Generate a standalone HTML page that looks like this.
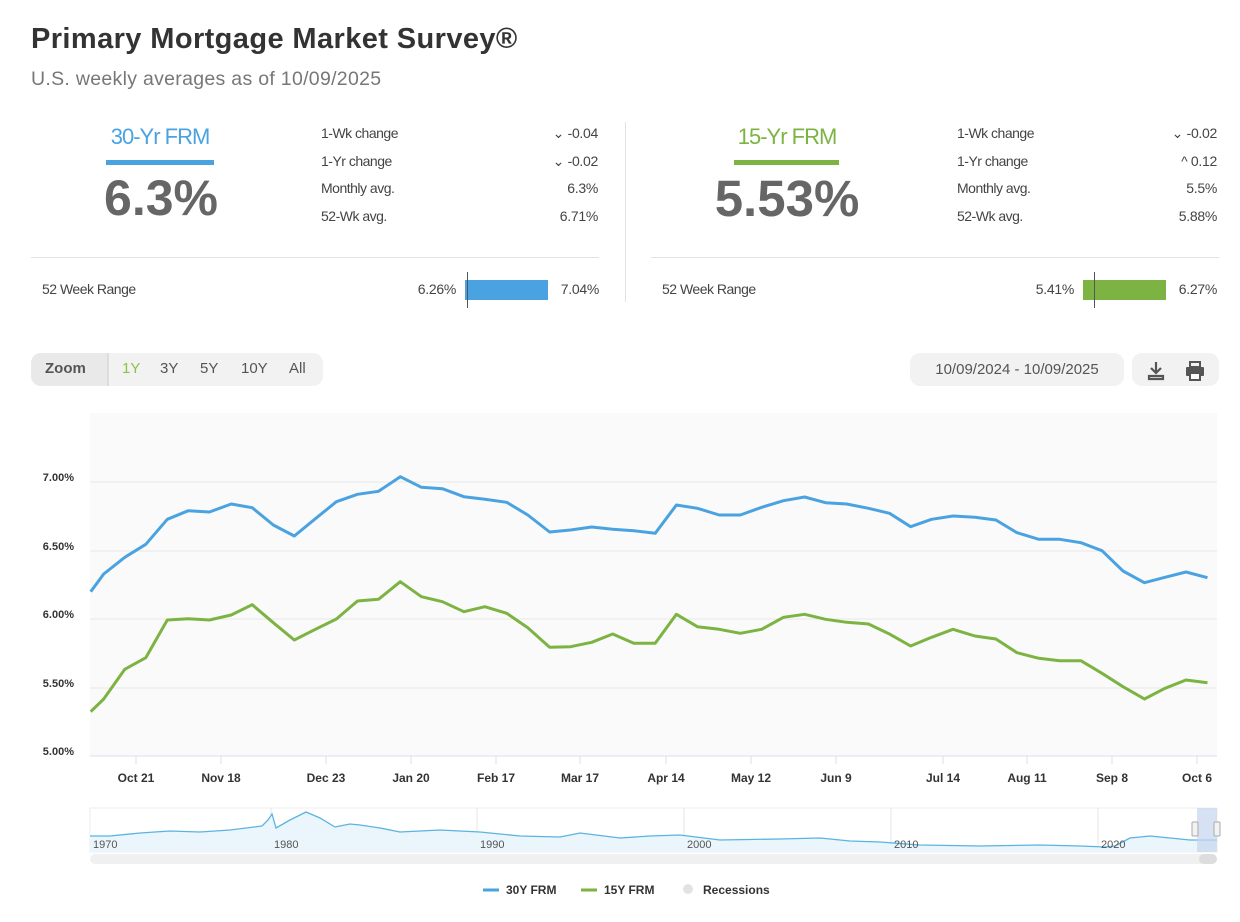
<!DOCTYPE html>
<html><head><meta charset="utf-8"><style>
body{margin:0;width:1240px;height:922px;background:#fff;font-family:"Liberation Sans",sans-serif;color:#444;position:relative;overflow:hidden}
.a{position:absolute;white-space:nowrap}
.lab{font-size:14px;color:#444;letter-spacing:-0.5px}
.val{font-size:14px;color:#444;text-align:right;letter-spacing:-0.3px}
</style></head><body>
<div class="a" style="left:31px;top:23px;font-size:29px;font-weight:bold;color:#333;letter-spacing:0.4px">Primary Mortgage Market Survey®</div>
<div class="a" style="left:31px;top:68px;font-size:19.5px;color:#777;letter-spacing:0.3px">U.S. weekly averages as of 10/09/2025</div>

<div class="a" style="left:103px;top:124px;width:114px;text-align:center;font-size:22px;color:#4aa3e0;letter-spacing:-1px">30-Yr FRM</div>
<div class="a" style="left:106px;top:160px;width:108px;height:5px;background:#4aa3e0"></div>
<div class="a" style="left:96px;top:169px;width:130px;text-align:center;font-size:50px;font-weight:bold;color:#666">6.3%</div>
<div class="a lab" style="left:321px;top:125px">1-Wk change</div>
<div class="a lab" style="left:321px;top:153px">1-Yr change</div>
<div class="a lab" style="left:321px;top:180px">Monthly avg.</div>
<div class="a lab" style="left:321px;top:208px">52-Wk avg.</div>
<div class="a val" style="left:500px;top:125px;width:98px">⌄ -0.04</div>
<div class="a val" style="left:500px;top:153px;width:98px">⌄ -0.02</div>
<div class="a val" style="left:500px;top:180px;width:98px">6.3%</div>
<div class="a val" style="left:500px;top:208px;width:98px">6.71%</div>
<div class="a" style="left:31px;top:257px;width:568px;height:1px;background:#e2e2e2"></div>
<div class="a lab" style="left:42px;top:281px">52 Week Range</div>
<div class="a val" style="left:390px;top:281px;width:66px">6.26%</div>
<div class="a" style="left:465px;top:280px;width:83px;height:20px;background:#4aa3e0"></div>
<div class="a" style="left:467px;top:272px;width:1px;height:36px;background:#555"></div>
<div class="a val" style="left:552px;top:281px;width:47px">7.04%</div>

<div class="a" style="left:625px;top:122px;width:1px;height:180px;background:#e2e2e2"></div>

<div class="a" style="left:728px;top:124px;width:118px;text-align:center;font-size:22px;color:#7cb342;letter-spacing:-1px">15-Yr FRM</div>
<div class="a" style="left:734px;top:160px;width:105px;height:5px;background:#7cb342"></div>
<div class="a" style="left:702px;top:169px;width:170px;text-align:center;font-size:51px;font-weight:bold;color:#666">5.53%</div>
<div class="a lab" style="left:957px;top:125px">1-Wk change</div>
<div class="a lab" style="left:957px;top:153px">1-Yr change</div>
<div class="a lab" style="left:957px;top:180px">Monthly avg.</div>
<div class="a lab" style="left:957px;top:208px">52-Wk avg.</div>
<div class="a val" style="left:1118px;top:125px;width:99px">⌄ -0.02</div>
<div class="a val" style="left:1118px;top:153px;width:99px">^ 0.12</div>
<div class="a val" style="left:1118px;top:180px;width:99px">5.5%</div>
<div class="a val" style="left:1118px;top:208px;width:99px">5.88%</div>
<div class="a" style="left:651px;top:257px;width:568px;height:1px;background:#e2e2e2"></div>
<div class="a lab" style="left:662px;top:281px">52 Week Range</div>
<div class="a val" style="left:1008px;top:281px;width:66px">5.41%</div>
<div class="a" style="left:1083px;top:280px;width:83px;height:20px;background:#7cb342"></div>
<div class="a" style="left:1094px;top:272px;width:1px;height:36px;background:#555"></div>
<div class="a val" style="left:1170px;top:281px;width:47px">6.27%</div>

<div class="a" style="left:31px;top:353px;width:292px;height:33px;background:#f2f2f2;border-radius:10px"></div>
<div class="a" style="left:31px;top:353px;width:76px;height:33px;background:#e9e9e9;border-radius:10px 0 0 10px;border-right:2px solid #ddd"></div>
<div class="a" style="left:45px;top:360px;font-size:15px;font-weight:bold;color:#555">Zoom</div>
<div class="a" style="left:122px;top:360px;font-size:15px;color:#8bc34a">1Y</div>
<div class="a" style="left:160px;top:360px;font-size:15px;color:#555">3Y</div>
<div class="a" style="left:200px;top:360px;font-size:15px;color:#555">5Y</div>
<div class="a" style="left:241px;top:360px;font-size:15px;color:#555">10Y</div>
<div class="a" style="left:289px;top:360px;font-size:15px;color:#555">All</div>
<div class="a" style="left:910px;top:353px;width:214px;height:33px;background:#f2f2f2;border-radius:10px"></div>
<div class="a" style="left:910px;top:361px;width:214px;text-align:center;font-size:15px;color:#555">10/09/2024 - 10/09/2025</div>
<div class="a" style="left:1132px;top:353px;width:87px;height:33px;background:#f2f2f2;border-radius:10px"></div>
<svg class="a" style="left:1132px;top:353px" width="87" height="33">
<path d="M24 9v10M19 15l5 5 5-5M17 23h14v3H17z" stroke="#555" stroke-width="2.2" fill="none"/>
<rect x="54" y="14" width="18" height="9" rx="1" fill="#555"/><rect x="58" y="9" width="10" height="5" fill="none" stroke="#555" stroke-width="2"/><rect x="58" y="20" width="10" height="7" fill="#fff" stroke="#555" stroke-width="2"/>
</svg>

<svg class="a" style="left:0;top:0" width="1240" height="922">
<rect x="90" y="413" width="1127" height="343" fill="#fafafa"/>
<g stroke="#e8e8e8" stroke-width="1">
<line x1="90" y1="482" x2="1217" y2="482"/><line x1="90" y1="551" x2="1217" y2="551"/><line x1="90" y1="619" x2="1217" y2="619"/><line x1="90" y1="688" x2="1217" y2="688"/></g>
<line x1="90" y1="756" x2="1217" y2="756" stroke="#dde" stroke-width="1"/>
<g stroke="#dde" stroke-width="1">
<line x1="136" y1="756" x2="136" y2="764"/><line x1="221" y1="756" x2="221" y2="764"/><line x1="326" y1="756" x2="326" y2="764"/><line x1="411" y1="756" x2="411" y2="764"/><line x1="496" y1="756" x2="496" y2="764"/><line x1="580" y1="756" x2="580" y2="764"/><line x1="666" y1="756" x2="666" y2="764"/><line x1="751" y1="756" x2="751" y2="764"/><line x1="836" y1="756" x2="836" y2="764"/><line x1="943" y1="756" x2="943" y2="764"/><line x1="1027" y1="756" x2="1027" y2="764"/><line x1="1112" y1="756" x2="1112" y2="764"/><line x1="1197" y1="756" x2="1197" y2="764"/></g>
<g font-size="11" font-weight="bold" fill="#333" text-anchor="end" font-family="Liberation Sans">
<text x="74" y="481">7.00%</text><text x="74" y="550">6.50%</text><text x="74" y="618">6.00%</text><text x="74" y="687">5.50%</text><text x="74" y="755">5.00%</text></g>
<g font-size="12" font-weight="bold" fill="#333" text-anchor="middle" font-family="Liberation Sans">
<text x="136" y="782">Oct 21</text><text x="221" y="782">Nov 18</text><text x="326" y="782">Dec 23</text><text x="411" y="782">Jan 20</text><text x="496" y="782">Feb 17</text><text x="580" y="782">Mar 17</text><text x="666" y="782">Apr 14</text><text x="751" y="782">May 12</text><text x="836" y="782">Jun 9</text><text x="943" y="782">Jul 14</text><text x="1027" y="782">Aug 11</text><text x="1112" y="782">Sep 8</text><text x="1197" y="782">Oct 6</text></g>
<polyline fill="none" stroke="#4aa3e0" stroke-width="3" stroke-linejoin="round" points="90.7,591.7 103.7,574 124.8,557.3 145.8,544.3 167.3,519.3 188.3,510.7 209.4,512 231.2,504 252.2,507.7 273.3,525 294.3,536 315.4,518.7 336.4,501.7 357.5,494.3 378.5,491.3 400.3,476.7 421.4,487.3 442.4,488.7 463.9,496.7 484.9,499.3 506.7,502.3 527.8,515 549.6,532 570.6,530 591.7,527 612.7,529.3 633.8,530.7 655.2,533.3 676.4,505 697.4,508.3 719.2,515 740.3,515 761.7,507.3 783.5,500.7 804.6,497 825.6,502.7 846.7,504 868.5,508.3 889.5,513.3 910.6,526.7 931.6,519.3 953,516 974.9,517.3 995.9,520 1017,532.7 1038.8,539.3 1059.8,539.3 1080.9,542.7 1102,550.7 1123,571 1144.4,582.7 1165,577.3 1186,572 1207.5,577.7"/>
<polyline fill="none" stroke="#7cb342" stroke-width="3" stroke-linejoin="round" points="90.7,711.7 103.7,699 124.8,669.3 145.8,657.7 167.3,620 188.3,618.7 209.4,620 231.2,615 252.2,604.7 273.3,622.7 294.3,640 315.4,629.3 336.4,619 357.5,601 378.5,599.3 400.3,581.7 421.4,596.7 442.4,601.7 463.9,611.7 484.9,606.7 506.7,613.3 527.8,627.7 549.6,647.3 570.6,646.7 591.7,642.3 612.7,634 633.8,643.3 655.2,643.3 676.4,614.3 697.4,626.7 719.2,629.3 740.3,633.3 761.7,629.3 783.5,617.3 804.6,614.3 825.6,619.3 846.7,622.3 868.5,624 889.5,634 910.6,646 931.6,637.3 953,629.3 974.9,636 995.9,639 1017,652.7 1038.8,658.3 1059.8,660.7 1080.9,660.7 1102,673.3 1123,686.7 1144.4,699 1165,688.3 1186,680 1207.5,682.7"/>
<rect x="90" y="808" width="1127" height="44" fill="#fff" stroke="#eee"/>
<g stroke="#e6e6e6"><line x1="271" y1="808" x2="271" y2="852"/><line x1="477" y1="808" x2="477" y2="852"/><line x1="684" y1="808" x2="684" y2="852"/><line x1="891" y1="808" x2="891" y2="852"/><line x1="1098" y1="808" x2="1098" y2="852"/></g>
<polygon fill="#eaf5fc" points="90,852 90,836 110,836 140,833 170,831 200,832 230,830 262,826 268,820 272,814 276,828 290,820 300,815 306,812 320,818 335,827 350,824 360,825 380,828 400,832 440,830 480,832 520,836 560,837 580,833 620,838 650,836 680,835 720,840 780,839 820,838 850,841 880,842 920,845 980,846 1040,845 1080,846 1105,847 1115,846 1130,838 1150,836 1170,838 1190,840 1217,840 1217,852"/>
<polyline fill="none" stroke="#5bb4e0" stroke-width="1.3" points="90,836 110,836 140,833 170,831 200,832 230,830 262,826 268,820 272,814 276,828 290,820 300,815 306,812 320,818 335,827 350,824 360,825 380,828 400,832 440,830 480,832 520,836 560,837 580,833 620,838 650,836 680,835 720,840 780,839 820,838 850,841 880,842 920,845 980,846 1040,845 1080,846 1105,847 1115,846 1130,838 1150,836 1170,838 1190,840 1217,840"/>
<rect x="1197" y="808" width="20" height="44" fill="#c5d6ee" opacity="0.7"/>
<rect x="1192" y="822" width="6" height="14" rx="1" fill="#f2f2f2" stroke="#aaa"/>
<rect x="1214" y="822" width="6" height="14" rx="1" fill="#f2f2f2" stroke="#aaa"/>
<g font-size="11" fill="#555" font-family="Liberation Sans"><text x="93" y="848">1970</text><text x="274" y="848">1980</text><text x="480" y="848">1990</text><text x="687" y="848">2000</text><text x="894" y="848">2010</text><text x="1101" y="848">2020</text></g>
<rect x="90" y="854" width="1127" height="10" rx="5" fill="#f0f0f0"/>
<rect x="1199" y="854" width="18" height="10" rx="5" fill="#ddd"/>
<line x1="483" y1="890" x2="499" y2="890" stroke="#4aa3e0" stroke-width="3"/>
<text x="506" y="894" font-size="12" font-weight="bold" fill="#333" font-family="Liberation Sans">30Y FRM</text>
<line x1="581" y1="890" x2="597" y2="890" stroke="#7cb342" stroke-width="3"/>
<text x="604" y="894" font-size="12" font-weight="bold" fill="#333" font-family="Liberation Sans">15Y FRM</text>
<circle cx="688" cy="889" r="5" fill="#e3e3e3"/>
<text x="703" y="894" font-size="12" font-weight="bold" fill="#333" font-family="Liberation Sans">Recessions</text>
</svg>
</body></html>
